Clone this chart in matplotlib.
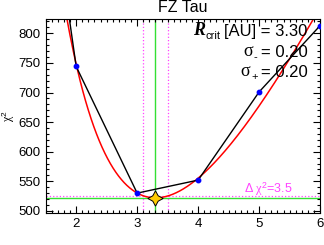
import numpy as np
import matplotlib
matplotlib.use('Agg')
import matplotlib.pyplot as plt
from matplotlib.ticker import MultipleLocator

plt.rcParams['font.family'] = ['Liberation Sans', 'DejaVu Sans']
plt.rcParams['mathtext.fontset'] = 'custom'
plt.rcParams['mathtext.rm'] = 'Liberation Sans'
plt.rcParams['mathtext.sf'] = 'Liberation Serif'
plt.rcParams['mathtext.it'] = 'Liberation Serif:italic'

# grid of models
r_crit = [1.5, 2.0, 3.0, 4.0, 5.0, 6.0]
chi2 = [1105, 744, 530, 552, 701, 813]

# fit results
best = 3.30
sig_lo = 0.20
sig_hi = 0.20
chi2_min = 522
curv = 900.0      # parabola in ln(R)
dchi2 = 3.5

fig = plt.figure(figsize=(3.24, 2.45), dpi=100)
ax = fig.add_axes([0.141, 0.132, 0.847, 0.790])

xx = np.linspace(1.5, 6.0, 400)
fit = chi2_min + curv * (np.log(xx) - np.log(best))**2

ax.axhline(chi2_min, color='#33e033', lw=1.0, zorder=1)
ax.axvline(best, color='#33e033', lw=1.0, zorder=1)
ax.axhline(chi2_min + dchi2, color='#ff44ff', lw=0.9, ls=':', zorder=1)
ax.axvline(best - sig_lo, color='#ff44ff', lw=0.9, ls=':', zorder=1)
ax.axvline(best + sig_hi, color='#ff44ff', lw=0.9, ls=':', zorder=1)

ax.plot(xx, fit, color='red', lw=1.1, zorder=2)
ax.plot(r_crit, chi2, color='black', lw=1.0, zorder=3)
ax.plot(r_crit, chi2, 'o', color='blue', ms=3.2, mec='blue', zorder=4)
ax.plot([best], [chi2_min], marker=(4, 1, 0), ms=11, color='#ffcc00',
        mec='black', mew=0.7, zorder=5, clip_on=False)

ax.set_xlim(1.5, 6.0)
ax.set_ylim(497, 824)
ax.xaxis.set_major_locator(MultipleLocator(1))
ax.xaxis.set_minor_locator(MultipleLocator(0.1))
ax.yaxis.set_major_locator(MultipleLocator(50))
ax.yaxis.set_minor_locator(MultipleLocator(10))
ax.tick_params(which='both', direction='in', top=True, right=True, labelsize=9.5)
ax.tick_params(which='major', length=5, width=0.8)
ax.tick_params(which='minor', length=2.5, width=0.8)
for s in ax.spines.values():
    s.set_linewidth(0.8)

ax.set_title('FZ Tau', fontsize=11.5, pad=5)
ax.set_ylabel(r'$\mathsf{\chi}^{2}$', fontsize=8.5)
ax.yaxis.set_label_coords(-0.105, 0.5)


def label_line(y, symbol, sub, value, symfont):
    # "<symbol><sub> <value>" right aligned, built from plain text pieces
    t1 = ax.text(0.955, y, value, transform=ax.transAxes,
                 ha='right', va='baseline', fontsize=12)
    t2 = ax.annotate(sub, xy=(0, 0), xycoords=t1, xytext=(-2.5, -1.5),
                     textcoords='offset points', ha='right', va='bottom', fontsize=8)
    ax.annotate(symbol, xy=(0, 0), xycoords=(t2, t1), xytext=(-0.5, 0),
                textcoords='offset points', ha='right', va='bottom', **symfont)


label_line(0.914, 'R', 'crit', '[AU] = %.2f' % best,
           dict(fontsize=13, fontfamily='Liberation Serif', fontweight='bold',
                fontstyle='italic'))
label_line(0.805, 'σ', '-', '= %.2f' % sig_lo,
           dict(fontsize=13, fontfamily='Liberation Serif'))
label_line(0.702, 'σ', '+', '= %.2f' % sig_hi,
           dict(fontsize=13, fontfamily='Liberation Serif'))

ax.text(0.90, 0.10, r'Δ $\mathsf{\chi}^{2}$=%.1f' % dchi2, color='#ff44ff',
        transform=ax.transAxes, ha='right', va='baseline', fontsize=9)

fig.savefig('out.png', dpi=100)
